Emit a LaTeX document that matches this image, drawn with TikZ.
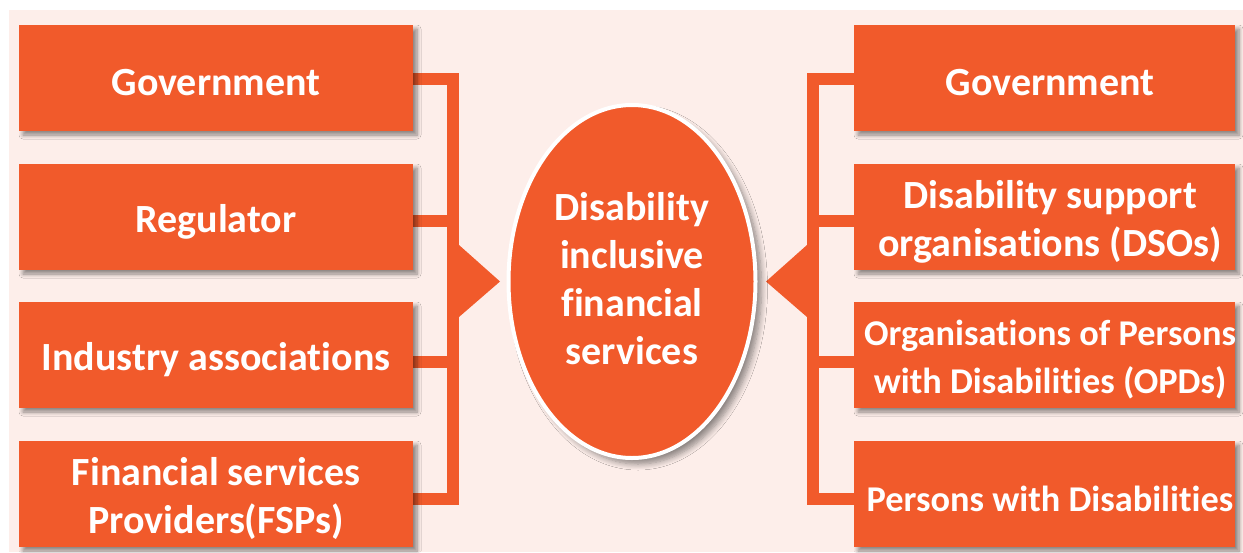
\documentclass[tikz,border=0pt]{standalone}
\usepackage{fontspec}
\setmainfont{Carlito}[Ligatures=NoCommon]
\usetikzlibrary{calc,shapes.geometric,backgrounds,shadows.blur}
\definecolor{bgpink}{HTML}{FDEEEA}
\definecolor{flame}{HTML}{F15A2B}

\begin{document}
\begin{tikzpicture}[x=1pt,y=-1pt,
  label font/.style={font=\fontsize{40}{48}\selectfont\bfseries},
  snug font/.style={font=\fontsize{36.3}{48}\selectfont\bfseries},
  boxshadow/.style={blur shadow={shadow xshift=4pt,shadow yshift=-4pt,shadow blur steps=6,shadow blur radius=4pt,shadow opacity=45}},
  box/.style={fill=flame,minimum height=106pt,inner sep=0pt,boxshadow},
  leftbox/.style={box,minimum width=394pt},
  rightbox/.style={box,minimum width=381pt},
  boxtext/.style={inner sep=0pt,align=center,text=white,label font},
  hub/.style={ellipse,fill=flame,draw=white,line width=4pt,minimum width=247pt,minimum height=353pt,
    inner sep=0pt,
    blur shadow={shadow xshift=6pt,shadow yshift=-6pt,shadow blur steps=8,shadow blur radius=6pt,shadow opacity=45}},
  conn/.style={draw=flame,line width=12pt,line join=miter},
  pointer/.style={fill=flame}]

\useasboundingbox (0,0) rectangle (1243,552);

% stakeholder boxes, left column
\node[leftbox] (L1) at (216,78)  {};
\node[leftbox] (L2) at (216,217) {};
\node[leftbox] (L3) at (216,355) {};
\node[leftbox] (L4) at (216,494) {};

% stakeholder boxes, right column
\node[rightbox] (R1) at (1044.5,78)  {};
\node[rightbox] (R2) at (1044.5,217) {};
\node[rightbox] (R3) at (1044.5,355) {};
\node[rightbox] (R4) at (1044.5,494) {};

% central theme
\node[hub] (hub) at (632,281.5) {};

% box captions, set a little below the geometric centres
\node[boxtext] (L1t) at ($(L1)+(0,4.5)$) {Government};
\node[boxtext] (L2t) at ($(L2)+(0,4.5)$) {Regulator};
\node[boxtext] (L3t) at ($(L3)+(0,4.5)$) {Industry associations};
\node[boxtext] (L4t) at ($(L4)+(0,4.5)$) {Financial services\\Providers(FSPs)};
\node[boxtext] (R1t) at ($(R1)+(5.5,4.5)$) {Government};
\node[boxtext] (R2t) at ($(R2)+(5.5,4.5)$) {Disability support\\organisations (DSOs)};
\node[boxtext,snug font] (R3t) at ($(R3)+(5.5,4.5)$) {Organisations of Persons\\with Disabilities (OPDs)};
\node[boxtext,snug font] (R4t) at ($(R4)+(5.5,4.5)$) {Persons with Disabilities};
\node[boxtext] (hubt) at ($(hub)+(0,-3)$) {Disability\\inclusive\\financial\\services};

% rails collecting each column
\coordinate (lt) at (453,79);
\coordinate (lb) at (453,498.5);
\coordinate (rt) at (813,79);
\coordinate (rb) at (813,498.5);

\begin{pgfonlayer}{background}
  \fill[bgpink] (9,10) rectangle (1243,552);

  \draw[conn] ($(L1.east)+(0,1)$) -- (lt) -- (lb) -- ($(L4.east)+(0,4.5)$);
  \draw[conn] ($(L2.east)+(0,3.5)$) -- (lt |- {$(L2.east)+(0,3.5)$});
  \draw[conn] ($(L3.east)+(0,7)$) -- (lt |- {$(L3.east)+(0,7)$});

  \draw[conn] ($(R1.west)+(0,1)$) -- (rt) -- (rb) -- ($(R4.west)+(0,4.5)$);
  \draw[conn] ($(R2.west)+(0,3.5)$) -- (rt |- {$(R2.west)+(0,3.5)$});
  \draw[conn] ($(R3.west)+(0,7)$) -- (rt |- {$(R3.west)+(0,7)$});

  % arrowheads pointing at the hub
  \fill[pointer] (459,245) -- (hub.west -| 500,0) -- (459,317) -- cycle;
  \fill[pointer] (807,245) -- (hub.east -| 766,0) -- (807,317) -- cycle;
\end{pgfonlayer}
\end{tikzpicture}
\end{document}
